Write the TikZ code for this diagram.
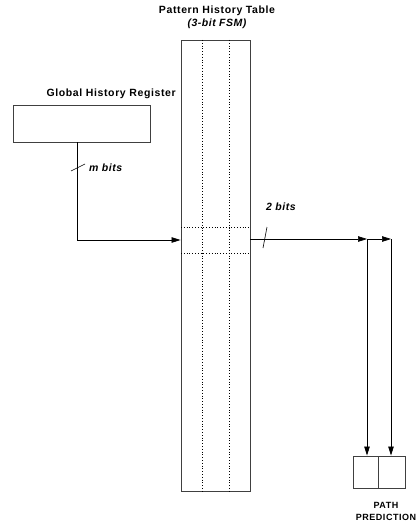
\documentclass[tikz,border=0pt]{standalone}
\usepackage{fontspec}
\setmainfont{Liberation Sans}
\usetikzlibrary{arrows.meta}

\begin{document}
\begin{tikzpicture}[x=1pt,y=-1pt,
      box/.style={draw=black!75, line width=0.9pt, rectangle, inner sep=0pt},
      lbl/.style={font=\fontsize{10.5}{12}\selectfont\addfontfeatures{LetterSpace=6}\bfseries, inner sep=0pt},
      bits/.style={font=\fontsize{10.5}{12}\selectfont\addfontfeatures{LetterSpace=5}\bfseries\itshape, inner sep=0pt, anchor=west},
      wire/.style={line width=0.7pt, -{Triangle[length=9pt,width=5.5pt]}},
      grid/.style={dotted, line width=0.8pt}]
    \useasboundingbox (0,0) rectangle (417,527);
    % pattern history table
    \node[box, minimum width=69pt, minimum height=451pt] (pht) at (215.5,265.5) {};
    \node[lbl] (phttitle) at (217,11) {Pattern History Table};
    \node[lbl, font=\fontsize{10.5}{12}\selectfont\addfontfeatures{LetterSpace=5}\bfseries\itshape] (phtsub) at (217,24) {(3-bit FSM)};
    \draw[grid] (202,40) -- (202,491);
    \draw[grid] (229,40) -- (229,491);
    \draw[grid] (181,227) -- (250,227);
    \draw[grid] (181,253) -- (250,253);
    % global history register
    \node[box, minimum width=137pt, minimum height=37pt] (ghr) at (81.5,123.5) {};
    \node[lbl, anchor=east] (ghrtitle) at (176,94) {Global History Register};
    \coordinate (bend) at (77,240);
    \draw[wire] (ghr.south -| bend) -- (bend) -- (bend -| pht.west);
    \draw[line width=0.6pt] (71,171) -- (85,164);
    \node[bits] (mbits) at (89,168) {m bits};
    % path prediction
    \node[box, minimum width=25pt, minimum height=32pt] (predl) at (365.5,472) {};
    \node[box, minimum width=27pt, minimum height=32pt] (predr) at (391.5,472) {};
    \node[lbl, align=center, font=\fontsize{9}{12}\selectfont\addfontfeatures{LetterSpace=6}\bfseries] (predtitle) at (386,511) {PATH\\PREDICTION};
    \coordinate (tapl) at (367,239);
    \coordinate (tapr) at (391,239);
    \draw[wire] (tapl -| pht.east) -- (tapl);
    \draw[wire] (tapl) -- (tapr);
    \draw[wire] (tapl) -- (tapl |- predl.north);
    \draw[wire] (tapr) -- (tapr |- predr.north);
    \draw[line width=0.6pt] (263,248) -- (267,227);
    \node[bits] (twobits) at (266,207) {2 bits};
  \end{tikzpicture}
\end{document}
